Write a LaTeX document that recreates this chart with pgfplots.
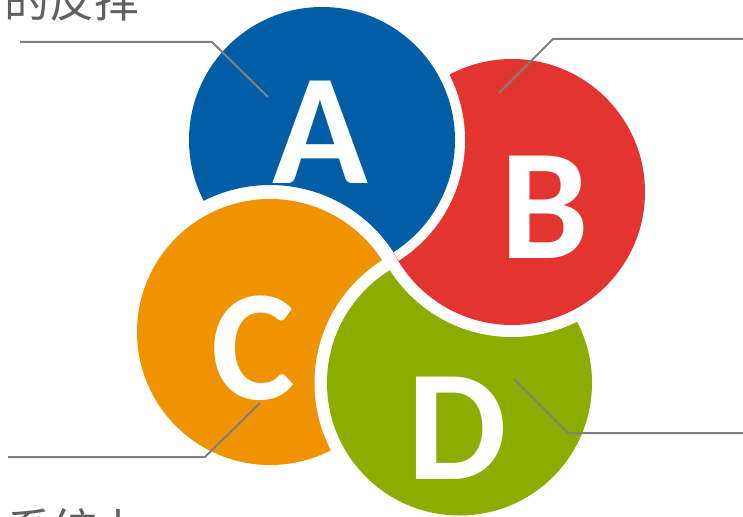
\documentclass[border=0pt]{standalone}
\usepackage{fontspec}
\setmainfont{Carlito}
\newfontfamily\cjk{Noto Sans CJK SC}
\usepackage{pgfplots}
\pgfplotsset{compat=1.18}
\definecolor{cA}{RGB}{0,93,166}
\definecolor{cB}{RGB}{227,53,47}
\definecolor{cC}{RGB}{240,147,0}
\definecolor{cD}{RGB}{140,172,0}
\definecolor{lineg}{RGB}{128,128,128}
\definecolor{txtg}{RGB}{95,95,95}
\begin{document}
\begin{tikzpicture}
\begin{axis}[width=743pt,height=516pt,scale only axis,
  xmin=0,xmax=743,ymin=0,ymax=516,y dir=reverse,hide axis,clip=true]
% C (orange)
\fill[white] (axis cs:270,332) circle[radius=147pt];
\fill[cC] (axis cs:270,332) circle[radius=133pt];
% D (green)
\fill[white] (axis cs:459.5,383) circle[radius=145pt];
\fill[cD] (axis cs:459.5,383) circle[radius=132.5pt];
% B (red)
\fill[white] (axis cs:512,192) circle[radius=145pt];
\fill[cB] (axis cs:512,192) circle[radius=133pt];
% A (blue): over B, but under C
\begin{scope}[even odd rule]
\clip (axis cs:-10,-10) rectangle (axis cs:753,526) (axis cs:270,332) circle[radius=147pt];
\fill[white] (axis cs:322,140) circle[radius=143pt];
\fill[cA] (axis cs:322,140) circle[radius=133pt];
\end{scope}
% leader lines
\addplot[lineg, line width=2pt, no marks] coordinates {(20,42) (212,42) (268,97)};
\addplot[lineg, line width=2pt, no marks] coordinates {(499,93) (553,39) (745,39)};
\addplot[lineg, line width=2pt, no marks] coordinates {(8,457) (205,457) (260,403)};
\addplot[lineg, line width=2pt, no marks] coordinates {(514,379) (568,433) (745,433)};
% letters
\node[anchor=base, white, font=\bfseries\fontsize{158}{158}\selectfont, inner sep=0pt] at (axis cs:320,183) {A};
\node[anchor=base, white, font=\bfseries\fontsize{158}{158}\selectfont, inner sep=0pt] at (axis cs:545,258) {B};
\node[anchor=base, white, font=\bfseries\fontsize{158}{158}\selectfont, inner sep=0pt] at (axis cs:253,399) {C};
\node[anchor=base, white, font=\bfseries\fontsize{158}{158}\selectfont, inner sep=0pt] at (axis cs:457,479) {D};
% clipped texts
\node[anchor=base west, txtg, font=\cjk\fontsize{45}{45}\selectfont, inner sep=0pt] at (axis cs:4,18) {的反择};
\node[anchor=base west, txtg, font=\cjk\fontsize{45}{45}\selectfont, inner sep=0pt] at (axis cs:7,546) {系统上};
\end{axis}
\pgfresetboundingbox
\path (current axis.south west) rectangle (current axis.north east);
\end{tikzpicture}
\end{document}
